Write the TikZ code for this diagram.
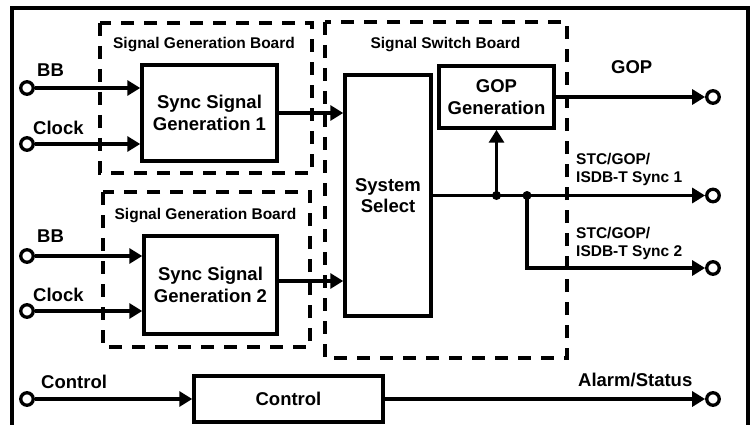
\documentclass[tikz,border=0pt]{standalone}
\usepackage{fontspec}
\setmainfont{Liberation Sans}
\usepackage{tikz}
\usetikzlibrary{arrows.meta}

\newcommand\lblfont{\fontsize{15.5}{18.5}\selectfont\bfseries}
\newcommand\boxfont{\fontsize{18.5}{21.5}\selectfont\bfseries}

\tikzset{
  blk/.style={draw, line width=3.5pt, align=center, font=\boxfont, inner sep=0pt},
  board/.style={line width=4.5pt, dash pattern=on 13pt off 10pt},
  sig/.style={line width=3.3pt, -{Triangle[length=13pt,width=15pt]}},
  port/.style={circle, draw, line width=3.3pt, fill=white, minimum size=12.5pt, inner sep=0pt},
  jdot/.style={circle, fill, minimum size=9pt, inner sep=0pt},
  lbl/.style={font=\lblfont, inner sep=0pt},
  txt/.style={font=\boxfont, inner sep=0pt}
}

\begin{document}
\begin{tikzpicture}[x=1pt,y=-1pt]
  \pgfmathsetmacro\xin{27}    % input ports
  \pgfmathsetmacro\xout{713}  % output ports
  \useasboundingbox (0,0) rectangle (752,425);

% outer frame
  \draw[line width=3.5pt] (12,426) -- (12,8) -- (748,8) -- (748,426);

% boards
  \draw[board] (100,23) rectangle (312,173);
  \draw[board] (103,192) rectangle (310,347);
  \draw[board] (325,22) rectangle (567,358);
  \node[lbl, anchor=base] (gb1) at (204,49) {Signal Generation Board};
  \node[lbl, anchor=base] (gb2) at (205.5,219) {Signal Generation Board};
  \node[lbl, anchor=base] (swb) at (445.5,49) {Signal Switch Board};

% blocks
  \node[blk, minimum width=135pt, minimum height=96pt] (sg1) at (209.5,113) {Sync Signal\\Generation 1};
  \node[blk, minimum width=133pt, minimum height=98pt] (sg2) at (210.5,285) {Sync Signal\\Generation 2};
  \node[blk, minimum width=86pt, minimum height=241pt] (sys) at (388,195.5) {System\\Select};
  \node[blk, minimum width=115pt, minimum height=62pt] (gop) at (496.5,97) {GOP\\Generation};
  \node[blk, minimum width=189pt, minimum height=46pt] (ctl) at (288.5,399) {Control};

% input ports at left
  \node[port] (bb1) at (\xin,88) {};
  \node[port] (clk1) at (\xin,144) {};
  \node[port] (bb2) at (\xin,256) {};
  \node[port] (clk2) at (\xin,311) {};
  \node[port] (ctlin) at (\xin,399) {};
  \node[txt, anchor=base west] (bb1l) at (37,77) {BB};
  \node[txt, anchor=base west] (clk1l) at (33,135) {Clock};
  \node[txt, anchor=base west] (bb2l) at (37,242.5) {BB};
  \node[txt, anchor=base west] (clk2l) at (33,301) {Clock};
  \node[txt, anchor=base west] (ctlinl) at (41,388) {Control};

% output ports at right
  \node[port] (gopout) at (\xout,97) {};
  \node[port] (s1out) at (\xout,195.5) {};
  \node[port] (s2out) at (\xout,268) {};
  \node[port] (alarmout) at (\xout,399) {};
  \node[txt, anchor=base west] (gopl) at (611,74) {GOP};
  \node[lbl, anchor=north west, align=left] (s1l) at (576,153) {STC/GOP/\\ISDB-T Sync 1};
  \node[lbl, anchor=north west, align=left] (s2l) at (576,227) {STC/GOP/\\ISDB-T Sync 2};
  \node[txt, anchor=base west] (alarml) at (578,386) {Alarm/Status};

% signal lines
  \draw[sig] (bb1) -- (bb1 -| sg1.west);
  \draw[sig] (clk1) -- (clk1 -| sg1.west);
  \draw[sig] (bb2) -- (bb2 -| sg2.west);
  \draw[sig] (clk2) -- (clk2 -| sg2.west);
  \draw[sig] (sg1) -- (sg1 -| sys.west);
  \coordinate (sg2o) at ([yshift=4pt]sg2.east);
  \draw[sig] (sg2o) -- (sg2o -| sys.west);
  \draw[sig] (gop) -- (gopout);
  \draw[sig] (sys) -- (s1out);
  \coordinate (j1) at (gop.south |- sys.east);
  \coordinate (j2) at (527,195.5);
  \draw[sig] (j1) -- (gop.south);
  \draw[sig] (j2) |- (s2out);
  \node[jdot] (d1) at (j1) {};
  \node[jdot] (d2) at (j2) {};
  \draw[sig] (ctlin) -- (ctl);
  \draw[sig] (ctl) -- (alarmout);

\end{tikzpicture}
\end{document}
